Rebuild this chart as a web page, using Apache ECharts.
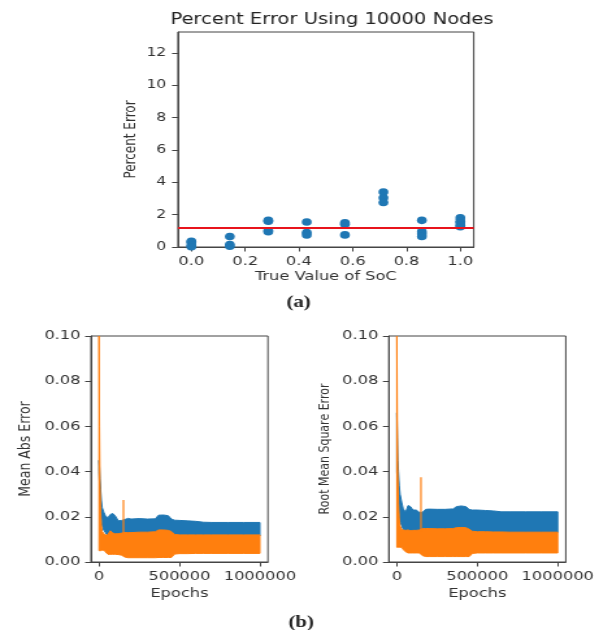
<!DOCTYPE html>
<html>
<head>
<meta charset="utf-8">
<script src="https://cdn.jsdelivr.net/npm/echarts@6/dist/echarts.min.js"></script>
<style>
  html, body { margin: 0; padding: 0; background: #fff; overflow: hidden; }
  /* the figure is laid out narrow and widened horizontally, like the printed page */
  #chart { width: 471px; height: 630px; transform: scaleX(1.2994); transform-origin: 0 0; }
</style>
</head>
<body>
<div id="chart"></div>
<script>
// ---- (a) percent error per true SoC value ----
const socValues = [0.0, 0.143, 0.286, 0.429, 0.571, 0.714, 0.857, 1.0];
const pctErr = [
  [0.35, 0.3, 0.1, 0.02],
  [0.65, 0.15, 0.05],
  [1.65, 1.6, 1.0, 0.95],
  [1.55, 0.9, 0.75],
  [1.5, 1.4, 0.75],
  [3.4, 3.05, 2.75],
  [1.65, 0.95, 0.8, 0.65],
  [1.8, 1.6, 1.5, 1.35, 1.25]
];
const meanPctErr = 1.18;
const socTicks = [0.0, 0.2, 0.4, 0.6, 0.8, 1.0];
const pctTicks = [0, 2, 4, 6, 8, 10, 12];

// ---- (b) training curves: envelope of the noisy traces ----
const epochs = [0, 3000, 6000, 10000, 15000, 20000, 30000, 40000, 55000, 70000, 85000,
  100000, 120000, 140000, 160000, 180000, 200000, 250000, 300000, 350000, 370000,
  400000, 430000, 450000, 470000, 500000, 550000, 600000, 650000, 700000, 800000,
  900000, 1000000];

const maeBlueHigh = [0.045, 0.042, 0.037, 0.032, 0.027, 0.024, 0.022, 0.0205, 0.0195, 0.021, 0.0215,
  0.0205, 0.0182, 0.0184, 0.0188, 0.0193, 0.019, 0.0192, 0.019, 0.0191, 0.0207,
  0.0208, 0.0205, 0.019, 0.0185, 0.0184, 0.0182, 0.018, 0.0176, 0.0175, 0.0175,
  0.0175, 0.0175];
const maeBlueLow = [0.04, 0.035, 0.03, 0.024, 0.019, 0.016, 0.014, 0.013, 0.0115, 0.0115, 0.0115,
  0.0115, 0.0115, 0.0115, 0.0115, 0.0115, 0.0115, 0.0115, 0.0115, 0.0115, 0.0115,
  0.0115, 0.0115, 0.0115, 0.0115, 0.0115, 0.0115, 0.0115, 0.0115, 0.0115, 0.0115,
  0.0115, 0.0115];
const maeOrangeHigh = [0.1, 0.06, 0.035, 0.022, 0.016, 0.0135, 0.0125, 0.012, 0.012, 0.0138, 0.0128,
  0.0125, 0.0125, 0.0128, 0.013, 0.013, 0.013, 0.0132, 0.0132, 0.0134, 0.0142,
  0.0142, 0.014, 0.0135, 0.0122, 0.012, 0.012, 0.012, 0.012, 0.012, 0.012,
  0.012, 0.012];
const maeOrangeLow = [0.005, 0.005, 0.005, 0.005, 0.0052, 0.0052, 0.0052, 0.0045, 0.0034, 0.0034, 0.0034,
  0.0034, 0.0033, 0.003, 0.0022, 0.0019, 0.0019, 0.0019, 0.0019, 0.0019, 0.002,
  0.002, 0.002, 0.002, 0.0035, 0.0037, 0.0037, 0.0038, 0.0038, 0.0038, 0.0038,
  0.0038, 0.0038];
const maeSpike = { epoch: 152000, low: 0.0125, high: 0.0274 };

const rmseBlueHigh = [0.066, 0.055, 0.045, 0.04, 0.034, 0.03, 0.0265, 0.0235, 0.022, 0.025, 0.0245,
  0.023, 0.023, 0.022, 0.022, 0.0233, 0.0234, 0.0233, 0.0233, 0.0235, 0.0245,
  0.0248, 0.0245, 0.0232, 0.023, 0.023, 0.0228, 0.0226, 0.0222, 0.0222, 0.0222,
  0.0222, 0.0222];
const rmseBlueLow = [0.04, 0.036, 0.031, 0.026, 0.021, 0.018, 0.016, 0.0145, 0.013, 0.013, 0.013,
  0.013, 0.013, 0.013, 0.013, 0.013, 0.013, 0.013, 0.013, 0.013, 0.013,
  0.013, 0.013, 0.013, 0.013, 0.013, 0.013, 0.013, 0.013, 0.013, 0.013,
  0.013, 0.013];
const rmseOrangeHigh = [0.1, 0.06, 0.038, 0.026, 0.019, 0.016, 0.0145, 0.0142, 0.014, 0.0142, 0.0138,
  0.014, 0.014, 0.0142, 0.0148, 0.0148, 0.0148, 0.0147, 0.0147, 0.0148, 0.0152,
  0.0153, 0.0152, 0.0145, 0.0136, 0.0134, 0.0134, 0.0133, 0.0133, 0.0132, 0.0132,
  0.0132, 0.0132];
const rmseOrangeLow = [0.0065, 0.0065, 0.0065, 0.0065, 0.0065, 0.0065, 0.0065, 0.0055, 0.0045, 0.004, 0.004,
  0.004, 0.004, 0.004, 0.0028, 0.0024, 0.0024, 0.0024, 0.0024, 0.0024, 0.0024,
  0.0024, 0.0024, 0.0024, 0.0038, 0.004, 0.004, 0.004, 0.004, 0.004, 0.004,
  0.004, 0.004];
const rmseSpike = { epoch: 150000, low: 0.0135, high: 0.0375 };

const epochTicks = [0, 500000, 1000000];
const errTicks = [0, 0.02, 0.04, 0.06, 0.08, 0.1];

const BLUE = '#1f77b4';
const ORANGE = '#ff7f0e';
const AXIS = '#444';
const FONT = 'DejaVu Sans';

const chart = echarts.init(document.getElementById('chart'), null, { renderer: 'canvas' });

function valueAxis(gridIndex, min, max, ticks, fmt, name, nameGap, nameSize, labelSize, margin) {
  return {
    type: 'value', gridIndex, min, max, name, nameLocation: 'middle', nameGap,
    nameTextStyle: { fontFamily: FONT, fontSize: nameSize, color: '#333' },
    axisLine: { show: true, onZero: false, lineStyle: { color: AXIS, width: 1 } },
    axisTick: { show: true, length: 4.5, customValues: ticks, lineStyle: { color: AXIS } },
    axisLabel: { customValues: ticks, formatter: fmt, fontFamily: FONT, fontSize: labelSize, color: '#333', margin },
    splitLine: { show: false }
  };
}

function band(axisIndex, highs, lows, color, z) {
  const data = epochs.map((e, i) => [e, highs[i], lows[i]]);
  return {
    type: 'custom', xAxisIndex: axisIndex, yAxisIndex: axisIndex, z, clip: true, silent: true,
    data, encode: { x: 0, y: [1, 2] },
    renderItem(params, api) {
      if (params.dataIndex !== 0) return null;
      const top = data.map(d => api.coord([d[0], d[1]]));
      const bottom = data.map(d => api.coord([d[0], d[2]])).reverse();
      return {
        type: 'polygon',
        shape: { points: top.concat(bottom) },
        style: { fill: color, stroke: color, lineWidth: 1 }
      };
    }
  };
}

function spike(axisIndex, s) {
  return {
    type: 'line', xAxisIndex: axisIndex, yAxisIndex: axisIndex, z: 5, silent: true,
    showSymbol: false, data: [[s.epoch, s.low], [s.epoch, s.high]],
    lineStyle: { color: ORANGE, width: 1.4, opacity: 0.85 }
  };
}

const scatterData = [];
socValues.forEach((x, i) => pctErr[i].forEach(v => scatterData.push([x, v])));

chart.setOption({
  animation: false,
  backgroundColor: '#fff',
  title: {
    text: 'Percent Error Using 10000 Nodes', left: 250.5, top: 8, textAlign: 'center',
    textStyle: { fontFamily: FONT, fontSize: 15, fontWeight: 'normal', color: '#222' }
  },
  grid: [
    { left: 136.9, top: 32, width: 227.7, height: 215, show: true, borderColor: AXIS, borderWidth: 1, backgroundColor: 'transparent' },
    { left: 70, top: 336, width: 136.2, height: 226, show: true, borderColor: AXIS, borderWidth: 1, backgroundColor: 'transparent' },
    { left: 299.2, top: 336, width: 136.2, height: 226, show: true, borderColor: AXIS, borderWidth: 1, backgroundColor: 'transparent' }
  ],
  xAxis: [
    valueAxis(0, -0.05, 1.05, socTicks, v => v.toFixed(1), 'True Value of SoC', 23, 12.5, 12.5, 8),
    valueAxis(1, -50000, 1050000, epochTicks, v => String(v), 'Epochs', 25, 12.5, 12.5, 8),
    valueAxis(2, -50000, 1050000, epochTicks, v => String(v), 'Epochs', 25, 12.5, 12.5, 8)
  ],
  yAxis: [
    valueAxis(0, 0, 13.3, pctTicks, v => String(v), 'Percent Error', 30, 12, 12, 9),
    valueAxis(1, 0, 0.1, errTicks, v => v.toFixed(2), 'Mean Abs Error', 44, 12.5, 12.5, 8),
    valueAxis(2, 0, 0.1, errTicks, v => v.toFixed(2), 'Root Mean Square Error', 44, 11, 12.5, 8)
  ],
  graphic: [
    { type: 'text', left: 220.5, top: 295, style: { text: '(a)', font: 'bold 16px "Liberation Serif"', fill: '#222' } },
    { type: 'text', left: 222, top: 615, style: { text: '(b)', font: 'bold 16px "Liberation Serif"', fill: '#222' } }
  ],
  series: [
    {
      type: 'scatter', xAxisIndex: 0, yAxisIndex: 0, z: 2, silent: true,
      symbolSize: 7.6, itemStyle: { color: BLUE, opacity: 1 },
      data: scatterData,
      markLine: {
        silent: true, symbol: 'none', label: { show: false }, z: 4,
        lineStyle: { color: '#e8141c', width: 2, type: 'solid' },
        data: [{ yAxis: meanPctErr }]
      }
    },
    band(1, maeBlueHigh, maeBlueLow, BLUE, 2),
    band(1, maeOrangeHigh, maeOrangeLow, ORANGE, 3),
    spike(1, maeSpike),
    band(2, rmseBlueHigh, rmseBlueLow, BLUE, 2),
    band(2, rmseOrangeHigh, rmseOrangeLow, ORANGE, 3),
    spike(2, rmseSpike)
  ]
});
</script>
</body>
</html>
